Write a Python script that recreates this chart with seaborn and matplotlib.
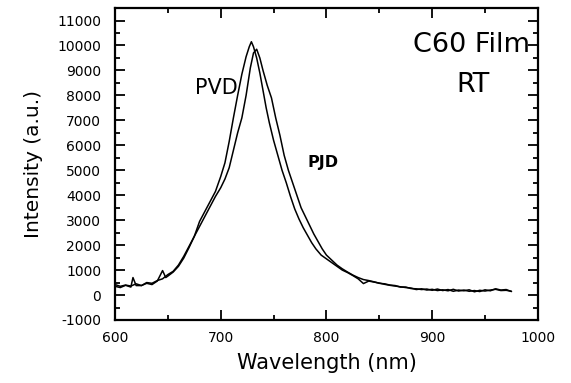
import numpy as np
import pandas as pd
import matplotlib
matplotlib.use("Agg")
import matplotlib.pyplot as plt
from matplotlib.ticker import MultipleLocator
import seaborn as sns

# values
pvd_wl = [600, 605, 610, 615, 617, 620, 625, 630, 635, 640, 645, 648, 650, 655, 660, 665, 670,
          675, 680, 685, 690, 695, 700, 704, 708, 712, 716, 720, 724, 727, 729, 731,
          734, 737, 740, 743, 746, 750, 754, 758, 762, 766, 770, 774, 778, 782, 786,
          790, 795, 800, 805, 810, 815, 820, 825, 830, 835, 840, 845, 850, 855, 860,
          865, 870, 875, 880, 885, 890, 895, 900, 905, 910, 915, 920, 925, 930, 935,
          940, 945, 950, 955, 960, 965, 970, 975]
pvd_int = [350, 300, 390, 320, 700, 380, 380, 470, 420, 560, 980, 700, 760, 920, 1150, 1480, 1900,
           2350, 2950, 3350, 3750, 4150, 4750, 5300, 6150, 7100, 8000, 8850, 9550, 9950, 10150, 9950,
           9500, 8900, 8200, 7500, 6900, 6200, 5600, 5000, 4500, 3950, 3450, 3050, 2700, 2400, 2100,
           1850, 1600, 1450, 1300, 1150, 1000, 900, 780, 650, 460, 560, 520, 480, 430, 390,
           360, 330, 300, 280, 220, 250, 200, 230, 180, 210, 170, 230, 160, 200, 150,
           180, 140, 210, 170, 250, 200, 220, 140]

pjd_wl = [600, 605, 610, 615, 620, 625, 630, 635, 640, 645, 650, 655, 660, 665, 670,
          675, 680, 685, 690, 695, 700, 704, 708, 712, 716, 720, 724, 728, 731, 734,
          737, 740, 744, 748, 752, 756, 760, 764, 768, 772, 776, 780, 784, 788, 792,
          796, 800, 805, 810, 815, 820, 825, 830, 835, 840, 845, 850, 855, 860, 865,
          870, 875, 880, 885, 890, 895, 900, 905, 910, 915, 920, 925, 930, 935, 940,
          945, 950, 955, 960, 965, 970, 975]
pjd_int = [420, 350, 400, 360, 450, 380, 500, 470, 580, 650, 820, 950, 1200, 1550, 1950,
           2350, 2750, 3150, 3550, 3950, 4300, 4650, 5100, 5800, 6500, 7100, 8000, 9100, 9700, 9850,
           9500, 9000, 8400, 7900, 7100, 6400, 5600, 5000, 4500, 4000, 3500, 3150, 2800, 2450, 2150,
           1850, 1600, 1400, 1200, 1050, 920, 800, 700, 620, 580, 530, 470, 450, 400, 380,
           320, 320, 260, 250, 220, 240, 190, 240, 180, 220, 150, 200, 170, 210, 130,
           190, 160, 200, 230, 180, 190, 150]

df = pd.concat([
    pd.DataFrame({"wl": pvd_wl, "I": pvd_int, "film": "PVD"}),
    pd.DataFrame({"wl": pjd_wl, "I": pjd_int, "film": "PJD"}),
])

sns.set_style("ticks")
plt.rcParams["font.family"] = ["DejaVu Sans"]
plt.rcParams["text.color"] = "black"
plt.rcParams["axes.labelcolor"] = "black"
plt.rcParams["axes.unicode_minus"] = False

fig = plt.figure(figsize=(5.71, 3.83), dpi=100)
ax = fig.add_axes([0.2014, 0.1645, 0.7406, 0.8145])

sns.lineplot(data=df, x="wl", y="I", units="film", estimator=None,
             color="black", linewidth=1.1, sort=False, ax=ax)

ax.set_xlim(600, 1000)
ax.set_ylim(-1000, 11500)
ax.xaxis.set_major_locator(MultipleLocator(100))
ax.xaxis.set_minor_locator(MultipleLocator(50))
ax.yaxis.set_major_locator(MultipleLocator(1000))
ax.yaxis.set_minor_locator(MultipleLocator(500))
ax.set_yticks(np.arange(-1000, 11001, 1000))

ax.tick_params(which="both", direction="in", top=True, right=True, width=1.3,
               labelsize=10, colors="black")
ax.tick_params(which="major", length=7)
ax.tick_params(which="minor", length=3.5)
ax.tick_params(axis="x", pad=8)
ax.tick_params(axis="y", pad=10)
for s in ax.spines.values():
    s.set_linewidth(1.6)
    s.set_color("black")

ax.set_xlabel("Wavelength (nm)", fontsize=15, labelpad=6)
ax.set_ylabel("Intensity (a.u.)", fontsize=14.5, labelpad=10)

ax.text(696, 8300, "PVD", fontsize=15, ha="center", va="center")
ax.text(797, 5300, "PJD", fontsize=11.5, fontweight="bold", ha="center", va="center")
ax.text(937, 10000, "C60 Film", fontsize=19.5, ha="center", va="center")
ax.text(939, 8400, "RT", fontsize=19.5, ha="center", va="center")

fig.savefig("out.png", dpi=100)
